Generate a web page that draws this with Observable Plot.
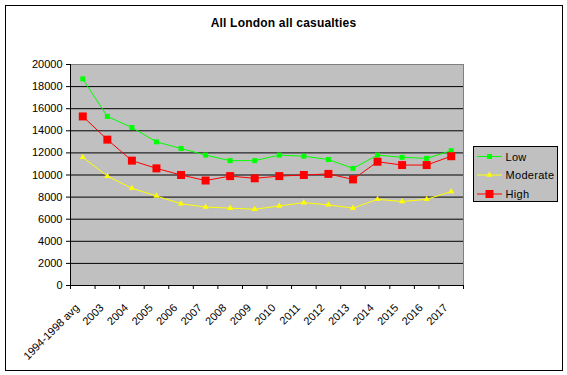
<!DOCTYPE html>
<html><head><meta charset="utf-8">
<script src="https://cdn.jsdelivr.net/npm/d3@7"></script>
<script src="https://cdn.jsdelivr.net/npm/@observablehq/plot@0.6"></script>
<style>
body{margin:0;background:#fff;}
#wrap{position:relative;width:567px;height:375px;font-family:"Liberation Sans",Arial,sans-serif;color:#000;}
#border{position:absolute;left:5px;top:5px;width:558px;height:366px;border:1px solid #000;box-sizing:border-box;pointer-events:none;}
#title{position:absolute;left:0;top:16px;width:567px;text-align:center;font-weight:bold;font-size:12px;line-height:14px;letter-spacing:0.2px;}
#chart{position:absolute;left:0;top:0;}
#legend{position:absolute;left:473px;top:146px;}
</style>
</head><body>
<div id="wrap">
  <div id="chart"></div>
  <div id="title">All London all casualties</div>
  <div id="legend"></div>
  <div id="border"></div>
</div>
<script>
const categories = ["1994-1998 avg","2003","2004","2005","2006","2007","2008","2009","2010","2011","2012","2013","2014","2015","2016","2017"];
const low      = [18700,15300,14300,13000,12400,11800,11300,11300,11800,11700,11400,10600,11800,11600,11500,12200];
const moderate = [11600, 9900, 8800, 8100, 7400, 7100, 7000, 6900, 7200, 7500, 7300, 7000, 7800, 7600, 7800, 8500];
const high     = [15300,13200,11300,10600,10000, 9500, 9900, 9700, 9900,10000,10100, 9600,11200,10900,10900,11700];
const yTicks = [0,2000,4000,6000,8000,10000,12000,14000,16000,18000,20000];
const seriesNames = ["Low","Moderate","High"];

const series = [
  {name: seriesNames[0], values: low,      color: "#00ff00", symbol: "square",   r: 2.8},
  {name: seriesNames[1], values: moderate, color: "#ffff00", symbol: "triangle", r: 2.3},
  {name: seriesNames[2], values: high,     color: "#ff0000", symbol: "square",   r: 4.5}
];

const n = categories.length;
const boundaries = categories.map((_, i) => i).concat([n]);
const yMax = yTicks[yTicks.length - 1];

const seriesMarks = series.flatMap(s => {
  const rows = categories.map((c, i) => ({i, cat: c, v: s.values[i]}));
  return [
    Plot.line(rows, {x: d => d.i + 0.5, y: "v", stroke: s.color, strokeWidth: 1}),
    Plot.dot(rows, {x: d => d.i + 0.5, y: "v", symbol: s.symbol, r: s.r, fill: s.color, stroke: null})
  ];
});

const chart = Plot.plot({
  width: 567,
  height: 375,
  marginLeft: 70,
  marginRight: 104,
  marginTop: 64,
  marginBottom: 90,
  x: {type: "linear", domain: [0, n], axis: null},
  y: {domain: [0, yMax], axis: null},
  style: {fontFamily: "'Liberation Sans', Arial, sans-serif", fontSize: "11px", color: "#000", background: "transparent", overflow: "visible"},
  marks: [
    Plot.frame({fill: "#c0c0c0", stroke: null}),
    Plot.ruleY(yTicks.filter(t => t > 0 && t < yMax), {stroke: "#000"}),
    Plot.ruleY([yMax], {stroke: "#808080"}),
    Plot.ruleX([n], {stroke: "#808080"}),
    Plot.ruleX([0], {stroke: "#000"}),
    Plot.ruleY([0], {stroke: "#000"}),
    Plot.axisY({ticks: yTicks, tickSize: 4, tickPadding: 4, tickFormat: d => String(d), label: null, fontSize: 11}),
    Plot.axisX({ticks: boundaries, tickSize: 4, tickFormat: () => "", label: null}),
    Plot.text(categories, {x: (d, i) => i + 0.5, frameAnchor: "bottom", text: d => d, rotate: -45,
      textAnchor: "end", lineAnchor: "bottom", dx: -3, dy: 23, fontSize: 11, fill: "#000"}),
    ...seriesMarks
  ]
});
document.getElementById("chart").appendChild(chart);

// Legend
const lg = d3.select("#legend").append("svg")
  .attr("width", 86).attr("height", 57)
  .style("font-family", "'Liberation Sans', Arial, sans-serif").style("font-size", "11px");
lg.append("rect").attr("x", 0.5).attr("y", 0.5).attr("width", 84).attr("height", 55)
  .attr("fill", "#c0c0c0").attr("stroke", "#000");
const rowY = [10, 28.5, 47.5];
series.forEach((s, k) => {
  const g = lg.append("g").attr("transform", `translate(0,${rowY[k]})`);
  g.append("line").attr("x1", 4).attr("x2", 29).attr("y1", 0.5).attr("y2", 0.5).attr("stroke", s.color);
  const sym = s.symbol === "square" ? d3.symbolSquare : d3.symbolTriangle;
  g.append("path").attr("d", d3.symbol(sym, s.r * s.r * Math.PI)()).attr("transform", "translate(16.5,0.5)").attr("fill", s.color);
  g.append("text").attr("x", 32.5).attr("y", 4.5).attr("letter-spacing", "0.3px").text(s.name);
});
</script>
</body></html>
